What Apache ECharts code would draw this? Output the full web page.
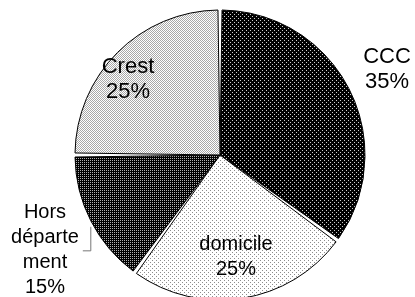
<!DOCTYPE html>
<html>
<head>
<meta charset="utf-8">
<script src="https://cdn.jsdelivr.net/npm/echarts@6/dist/echarts.min.js"></script>
<style>
  html, body { margin: 0; padding: 0; background: #fff; }
  #chart { width: 415px; height: 297px; }
</style>
</head>
<body>
<div id="chart"></div>
<script>
// slices, clockwise from 12 o'clock
const categories = ['CCC', 'domicile', 'Hors\ndéparte\nment', 'Crest'];
const shares = [35, 25, 15, 25];

// small tiled canvases standing in for the Excel pattern fills
function makePattern (size, bg, dot, dots) {
  const c = document.createElement('canvas');
  c.width = size;
  c.height = size;
  const ctx = c.getContext('2d');
  ctx.fillStyle = bg;
  ctx.fillRect(0, 0, size, size);
  ctx.fillStyle = dot;
  dots.forEach(function (p) { ctx.fillRect(p[0], p[1], 1, 1); });
  return { image: c, repeat: 'repeat' };
}

const fills = [
  makePattern(4, '#000', '#cfcfcf', [[0, 0], [2, 2]]),   // CCC
  makePattern(4, '#fff', '#8c8c8c', [[0, 0], [2, 2]]),   // domicile
  makePattern(2, '#000', '#b0b0b0', [[0, 0]]),           // Hors département
  makePattern(2, '#fff', '#a8a8a8', [[0, 0], [1, 1]])    // Crest
];

// where each label sits (centre of the text block)
const labelSpots = [[387, 69], [236, 257], [45, 250], [128, 79]];
const labelSizes = [22, 20, 20, 22];

const chart = echarts.init(document.getElementById('chart'), null, { renderer: 'canvas' });

chart.setOption({
  animation: false,
  series: [{
    type: 'pie',
    center: [220, 155],
    radius: 145,
    startAngle: 90,
    clockwise: true,
    padAngle: 1.6,
    percentPrecision: 0,
    avoidLabelOverlap: false,
    itemStyle: {
      borderColor: '#000',
      borderWidth: 1
    },
    label: {
      show: true,
      position: 'outside',
      alignTo: 'none',
      overflow: 'none',
      formatter: '{b}\n{d}%',
      color: '#000',
      fontFamily: 'Liberation Sans, Arial, sans-serif',
      lineHeight: 25,
      align: 'center'
    },
    labelLine: { show: false },
    labelLayout: function (params) {
      const i = params.dataIndex;
      const out = {
        x: labelSpots[i][0],
        y: labelSpots[i][1],
        align: 'center',
        verticalAlign: 'middle',
        hideOverlap: false,
        fontSize: labelSizes[i]
      };
      if (i === 2 && params.labelLinePoints) {
        const p0 = params.labelLinePoints[0];
        out.labelLinePoints = [
          [p0[0], p0[1] + 6],
          [p0[0], p0[1] + 30],
          [p0[0] - 8, p0[1] + 30]
        ];
      }
      return out;
    },
    emphasis: { disabled: true },
    data: categories.map(function (name, i) {
      const item = {
        name: name,
        value: shares[i],
        itemStyle: { color: fills[i] },
        label: { fontSize: labelSizes[i] }
      };
      if (i === 2) {
        item.labelLine = {
          show: true,
          length: 10,
          length2: 10,
          lineStyle: { color: '#777', width: 1 }
        };
      }
      return item;
    })
  }]
});
</script>
</body>
</html>
